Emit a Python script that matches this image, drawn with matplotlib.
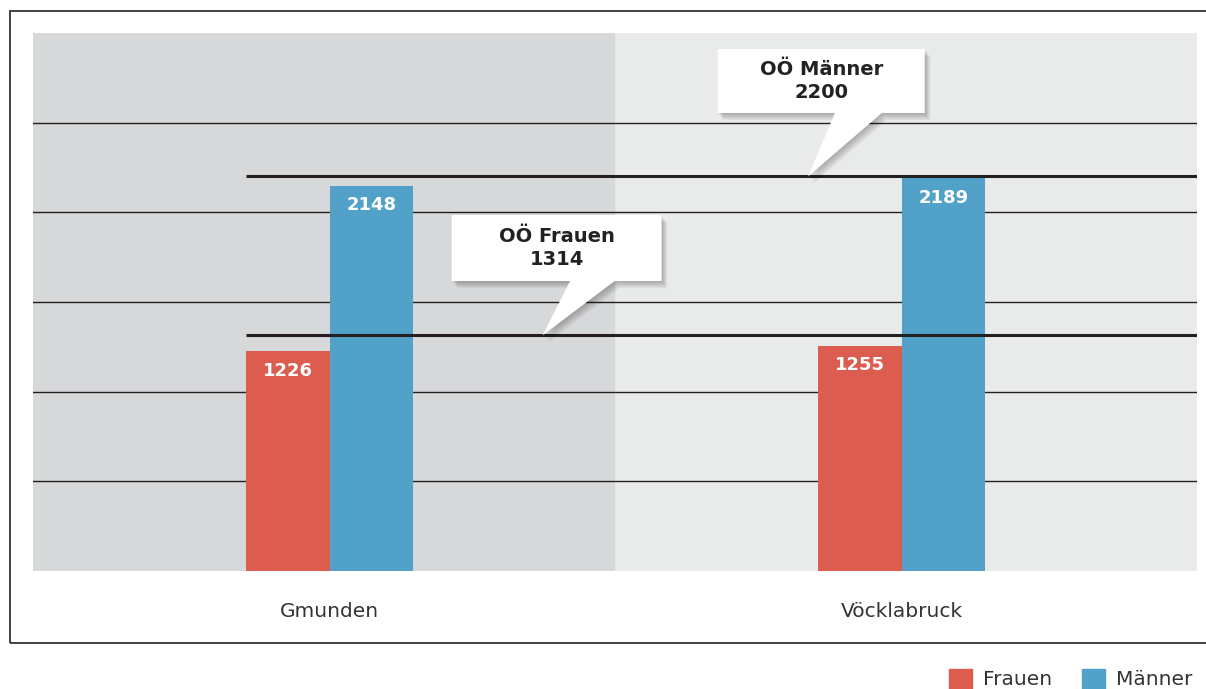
import numpy as np
import matplotlib
matplotlib.use("Agg")
import matplotlib.pyplot as plt
from matplotlib.patches import Patch, Polygon, Rectangle

# data
bezirke = ["Gmunden", "Vöcklabruck"]
frauen = [1226, 1255]
maenner = [2148, 2189]
ooe_frauen = 1314
ooe_maenner = 2200
y_ticks = [500, 1000, 1500, 2000, 2500]

RED = "#dc5c4f"
BLUE = "#52a1c9"
DARK = "#231f20"

fig = plt.figure(figsize=(12.06, 6.89), dpi=100)
ax = fig.add_axes([33 / 1206, 1 - 571 / 689, 1164 / 1206, 538 / 689])

x = np.arange(len(bezirke))
w = 0.146
x_lo, x_hi = -0.519, 1.516
ax.set_xlim(x_lo, x_hi)
ax.set_ylim(0, 3000)

# two background panels
ax.set_facecolor("#e9eaea")
ax.axvspan(x_lo, 0.4965, color="#d7d8da", zorder=0)

for t in y_ticks:
    ax.axhline(t, color=DARK, lw=1.0, zorder=1)

ax.bar(x - w / 2, frauen, w, color=RED, zorder=2)
ax.bar(x + w / 2, maenner, w, color=BLUE, zorder=2)

for xi, f, m in zip(x, frauen, maenner):
    for xx, v in ((xi - w / 2, f), (xi + w / 2, m)):
        ax.annotate(str(v), (xx, v), xytext=(0, -14), textcoords="offset points",
                    ha="center", va="center", color="white", fontsize=13,
                    fontweight="bold", zorder=4)

# Upper Austria averages
ax.hlines([ooe_maenner, ooe_frauen], -w, x_hi, color=DARK, lw=2.2, zorder=3)

px_x = (x_hi - x_lo) / 1164   # data units per pixel
px_y = 3000 / 538


def callout(x0, x1, y_top, y_bot, b0, b1, tip_x, tip_y, label):
    pts = [(x0, y_top), (x1, y_top), (x1, y_bot), (b1, y_bot),
           (tip_x, tip_y), (b0, y_bot), (x0, y_bot)]
    # soft shadow
    for k in range(1, 9):
        dx, dy = 0.7 * k * px_x, -0.9 * k * px_y
        sh = Polygon([(px + dx, py + dy) for px, py in pts], closed=True,
                     fc="black", ec="none", alpha=0.035, zorder=5)
        ax.add_patch(sh)
    ax.add_patch(Polygon(pts, closed=True, fc="white", ec="none", zorder=6))
    ax.text((x0 + x1) / 2, (y_top + y_bot) / 2, label, ha="center", va="center",
            fontsize=14, fontweight="bold", color="#222222", linespacing=1.25,
            zorder=7)


callout(0.213, 0.580, 1985, 1617, 0.420, 0.498, 0.372, ooe_frauen,
        "OÖ Frauen\n%d" % ooe_frauen)
callout(0.678, 1.040, 2911, 2554, 0.883, 0.965, 0.836, ooe_maenner,
        "OÖ Männer\n%d" % ooe_maenner)

ax.set_xticks(x)
ax.set_xticklabels(bezirke, fontsize=14.5, color="#333333")
ax.tick_params(axis="x", length=0, pad=22)
ax.set_yticks([])
for s in ax.spines.values():
    s.set_visible(False)

# outer frame
fig.add_artist(Rectangle((10 / 1206, 1 - 643 / 689), 1.0, 632 / 689,
                         transform=fig.transFigure, fill=False, ec="#333333",
                         lw=1.3))

handles = [Patch(color=RED, label="Frauen"), Patch(color=BLUE, label="Männer")]
leg = fig.legend(handles=handles, loc="lower right", bbox_to_anchor=(1.004, -0.027),
                 ncol=2, frameon=False, fontsize=14.5, handlelength=1.15,
                 handleheight=1.15, handletextpad=0.55, columnspacing=1.5)
for t in leg.get_texts():
    t.set_color("#333333")

fig.savefig("out.png", dpi=100)
